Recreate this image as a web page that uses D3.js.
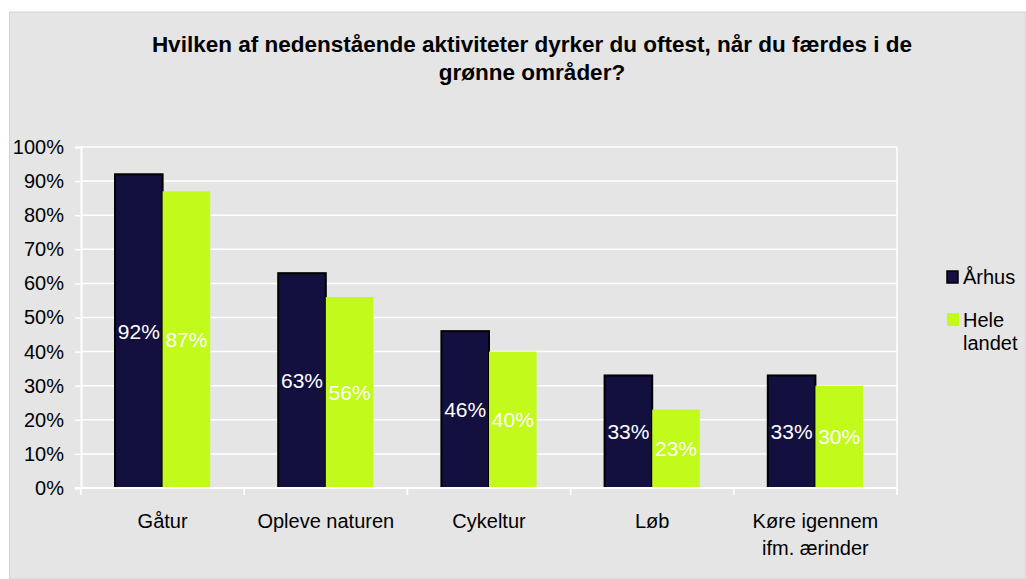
<!DOCTYPE html>
<html>
<head>
<meta charset="utf-8">
<script src="https://cdn.jsdelivr.net/npm/d3@7"></script>
<style>
  body { margin: 0; background: #fff; }
  text { font-family: "Liberation Sans", Arial, sans-serif; }
</style>
</head>
<body>
<div id="chart"></div>
<script>
// data
var categories = ["Gåtur", "Opleve naturen", "Cykeltur", "Løb", "Køre igennem|ifm. ærinder"];
var seriesNames = ["Århus", "Hele landet"];
var aarhus = [92, 63, 46, 33, 33];
var heleLandet = [87, 56, 40, 23, 30];
var yTicks = [0, 10, 20, 30, 40, 50, 60, 70, 80, 90, 100];

var colors = ["#13103F", "#C1FA1B"];
var fontSize = "20px";

var svgWidth = 1026;
var svgHeight = 579;

var margin = { top: 147, right: 129, bottom: 91, left: 81 };
var width = svgWidth - margin.left - margin.right;
var height = svgHeight - margin.top - margin.bottom;

var svg = d3.select("#chart")
  .append("svg")
  .attr("width", svgWidth)
  .attr("height", svgHeight);

// chart background
svg.append("rect")
  .attr("x", 9.5)
  .attr("y", 12)
  .attr("width", svgWidth - 9.5)
  .attr("height", svgHeight - 12)
  .attr("fill", "#E5E5E5")
  .attr("stroke", "#d4d4d4")
  .attr("stroke-width", 1);

// title
var title = svg.append("text")
  .attr("text-anchor", "middle")
  .attr("font-size", "22.5px")
  .attr("font-weight", "bold")
  .attr("fill", "#000");
title.append("tspan").attr("x", 532).attr("y", 52)
  .text("Hvilken af nedenstående aktiviteter dyrker du oftest, når du færdes i de");
title.append("tspan").attr("x", 532).attr("y", 80)
  .text("grønne områder?");

var chartGroup = svg.append("g")
  .attr("transform", `translate(${margin.left}, ${margin.top})`);

var xScale = d3.scaleBand()
  .domain(categories)
  .range([0, width])
  .paddingInner(0)
  .paddingOuter(0);

var xInner = d3.scaleBand()
  .domain(seriesNames)
  .range([34, xScale.bandwidth() - 34]);

var yScale = d3.scaleLinear()
  .domain([0, 100])
  .range([height, 0]);

// gridlines
chartGroup.selectAll(".grid")
  .data(yTicks.slice(1))
  .enter()
  .append("line")
  .attr("x1", 0)
  .attr("x2", width)
  .attr("y1", d => yScale(d))
  .attr("y2", d => yScale(d))
  .attr("stroke", "#fff")
  .attr("stroke-width", 1.5);

// right border of plot
chartGroup.append("line")
  .attr("x1", width).attr("x2", width)
  .attr("y1", 0).attr("y2", height)
  .attr("stroke", "#fff")
  .attr("stroke-width", 1.5);

// axes
var leftAxis = d3.axisLeft(yScale)
  .tickValues(yTicks)
  .tickSize(6)
  .tickPadding(11)
  .tickFormat(d => d + "%");

var yAxisG = chartGroup.append("g").call(leftAxis);
yAxisG.select(".domain").attr("stroke", "#fff").attr("stroke-width", 2);
yAxisG.selectAll(".tick line").attr("stroke", "#fff").attr("stroke-width", 1.5);
yAxisG.selectAll(".tick text")
  .attr("fill", "#000")
  .attr("font-size", fontSize)
  .attr("font-family", "Liberation Sans, Arial, sans-serif");

// bars
var groups = chartGroup.selectAll(".group")
  .data(categories)
  .enter()
  .append("g")
  .attr("transform", d => `translate(${xScale(d)}, 0)`);

var values = [aarhus, heleLandet];

groups.selectAll("rect")
  .data((d, i) => seriesNames.map((s, j) => ({ s: s, j: j, v: values[j][i] })))
  .enter()
  .append("rect")
  .attr("x", d => xInner(d.s))
  .attr("y", d => yScale(d.v))
  .attr("width", xInner.bandwidth())
  .attr("height", d => height - yScale(d.v))
  .attr("fill", d => colors[d.j])
  .attr("stroke", d => d.j === 0 ? "#000" : "none")
  .attr("stroke-width", 2);

groups.selectAll(".lbl")
  .data((d, i) => seriesNames.map((s, j) => ({ s: s, j: j, v: values[j][i] })))
  .enter()
  .append("text")
  .attr("class", "lbl")
  .attr("x", d => xInner(d.s) + xInner.bandwidth() / 2)
  .attr("y", d => (yScale(d.v) + height) / 2)
  .attr("dy", "0.36em")
  .attr("text-anchor", "middle")
  .attr("font-size", "21px")
  .attr("fill", "#fff")
  .text(d => d.v + "%");

// bottom axis
chartGroup.append("line")
  .attr("x1", -6).attr("x2", width)
  .attr("y1", height).attr("y2", height)
  .attr("stroke", "#fff")
  .attr("stroke-width", 2);

chartGroup.selectAll(".xtick")
  .data(categories.map(c => xScale(c)).concat([width]))
  .enter()
  .append("line")
  .attr("x1", d => d).attr("x2", d => d)
  .attr("y1", height).attr("y2", height + 7)
  .attr("stroke", "#fff")
  .attr("stroke-width", 1.5);

var xLabels = chartGroup.selectAll(".xlabel")
  .data(categories)
  .enter()
  .append("text")
  .attr("text-anchor", "middle")
  .attr("font-size", fontSize)
  .attr("fill", "#000");

xLabels.each(function(d) {
  var lines = d.split("|");
  var t = d3.select(this);
  lines.forEach(function(line, k) {
    t.append("tspan")
      .attr("x", xScale(d) + xScale.bandwidth() / 2)
      .attr("y", height + 40 + k * 27)
      .text(line);
  });
});

// legend
var legend = svg.append("g");
legend.append("rect")
  .attr("x", 947).attr("y", 271)
  .attr("width", 11).attr("height", 12)
  .attr("fill", colors[0])
  .attr("stroke", "#000")
  .attr("stroke-width", 1.5);
legend.append("text")
  .attr("x", 963).attr("y", 284)
  .attr("font-size", fontSize)
  .attr("fill", "#000")
  .text(seriesNames[0]);

legend.append("rect")
  .attr("x", 947).attr("y", 313)
  .attr("width", 12).attr("height", 13)
  .attr("fill", colors[1]);
var l2 = legend.append("text")
  .attr("font-size", fontSize)
  .attr("fill", "#000");
l2.append("tspan").attr("x", 963).attr("y", 327).text("Hele");
l2.append("tspan").attr("x", 963).attr("y", 350).text("landet");
</script>
</body>
</html>
